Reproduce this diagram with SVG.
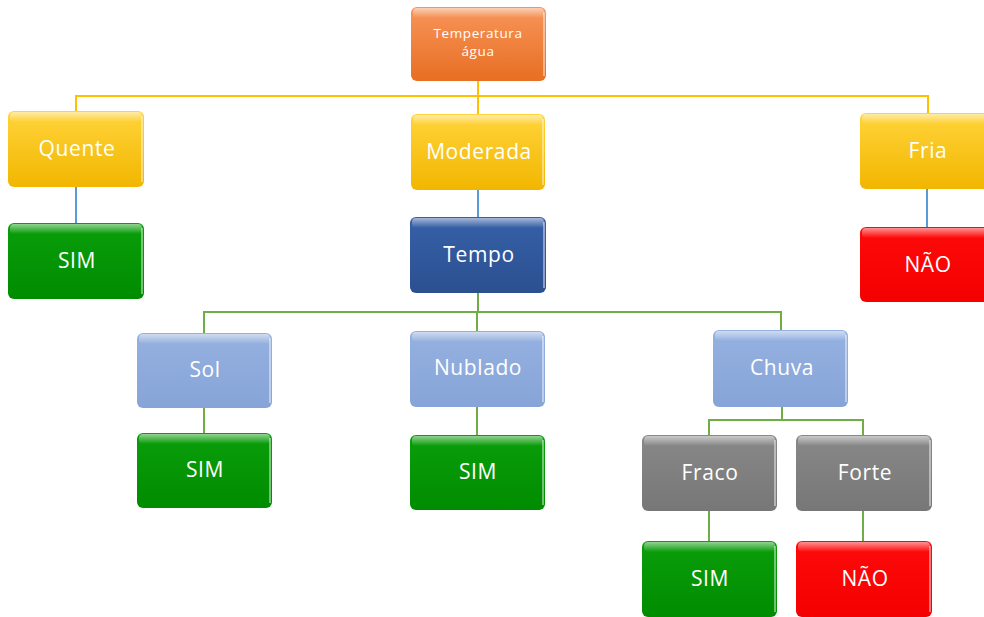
<svg xmlns="http://www.w3.org/2000/svg" width="984" height="617" viewBox="0 0 984 617">
<defs>
<linearGradient id="gOrange" x1="0" y1="0" x2="0" y2="1"><stop offset="0" stop-color="#F7955A"/><stop offset="1" stop-color="#E86E22"/></linearGradient>
<linearGradient id="gYellow" x1="0" y1="0" x2="0" y2="1"><stop offset="0" stop-color="#FFD43A"/><stop offset="1" stop-color="#F2B600"/></linearGradient>
<linearGradient id="gGreen" x1="0" y1="0" x2="0" y2="1"><stop offset="0" stop-color="#0A9E0A"/><stop offset="1" stop-color="#008C00"/></linearGradient>
<linearGradient id="gRed" x1="0" y1="0" x2="0" y2="1"><stop offset="0" stop-color="#FF0A0A"/><stop offset="1" stop-color="#F50000"/></linearGradient>
<linearGradient id="gDark" x1="0" y1="0" x2="0" y2="1"><stop offset="0" stop-color="#3660A8"/><stop offset="1" stop-color="#2B5090"/></linearGradient>
<linearGradient id="gLight" x1="0" y1="0" x2="0" y2="1"><stop offset="0" stop-color="#95B1E0"/><stop offset="1" stop-color="#87A4D8"/></linearGradient>
<linearGradient id="gGray" x1="0" y1="0" x2="0" y2="1"><stop offset="0" stop-color="#888888"/><stop offset="1" stop-color="#777777"/></linearGradient>
<linearGradient id="gShine" x1="0" y1="0" x2="0" y2="1"><stop offset="0" stop-color="#FFFFFF" stop-opacity="0.55"/><stop offset="1" stop-color="#FFFFFF" stop-opacity="0"/></linearGradient>
</defs>
<style>
.box{stroke:none}
.shine{fill:url(#gShine)}
.edge{fill:none;stroke:#FFFFFF;stroke-opacity:0.6;stroke-width:1.5}
.t{font-family:"Open Sans","DejaVu Sans",sans-serif;fill:#FFFFFF;text-anchor:middle;font-size:21px;letter-spacing:0.6px}
.ts{font-family:"Open Sans","DejaVu Sans",sans-serif;fill:#FFFFFF;text-anchor:middle;font-size:13.5px;letter-spacing:0.6px}
.cy{fill:none;stroke:#FFC000;stroke-width:2}
.cb{fill:none;stroke:#5B9BD5;stroke-width:2}
.cg{fill:none;stroke:#70AD47;stroke-width:2}
</style>
<g id="connectors">
<path class="cy" d="M478 81 V96 M76 111 V96 H928 V113 M478 96 V114"/>
<path class="cb" d="M76 187 V223 M478 190 V217 M927 189 V227"/>
<path class="cg" d="M478 293 V312 M204 333 V312 H781 V330 M477 312 V331 M204 408 V433 M477 407 V435"/>
<path class="cg" d="M782 407 V420 M709 435 V420 H863 V435 M709 511 V541 M863 511 V541"/>
</g>
<g id="n-temp">
<rect class="box" x="411" y="7" width="135" height="74" rx="6" fill="url(#gOrange)"/>
<rect class="shine" x="413" y="8" width="131" height="10" rx="4"/>
<path class="edge" d="M544 12 V76"/>
<text class="ts" x="478" y="38">Temperatura</text>
<text class="ts" x="478" y="56">água</text>
</g>
<g id="n-quente">
<rect class="box" x="8" y="111" width="136" height="76" rx="6" fill="url(#gYellow)"/>
<rect class="shine" x="10" y="112" width="132" height="10" rx="4"/>
<path class="edge" d="M142 116 V182"/>
<text class="t" x="77" y="156">Quente</text>
</g>
<g id="n-moderada">
<rect class="box" x="411" y="114" width="134" height="76" rx="6" fill="url(#gYellow)"/>
<rect class="shine" x="413" y="115" width="130" height="10" rx="4"/>
<path class="edge" d="M543 119 V185"/>
<text class="t" x="479" y="159">Moderada</text>
</g>
<g id="n-fria">
<rect class="box" x="860" y="113" width="134" height="76" rx="6" fill="url(#gYellow)"/>
<rect class="shine" x="862" y="114" width="130" height="10" rx="4"/>
<text class="t" x="928" y="158">Fria</text>
</g>
<g id="n-sim1">
<rect class="box" x="8" y="223" width="136" height="76" rx="6" fill="url(#gGreen)"/>
<rect class="shine" x="10" y="224" width="132" height="10" rx="4"/>
<path class="edge" d="M142 228 V294"/>
<text class="t" x="77" y="268">SIM</text>
</g>
<g id="n-tempo">
<rect class="box" x="410" y="217" width="136" height="76" rx="6" fill="url(#gDark)"/>
<rect class="shine" x="412" y="218" width="132" height="10" rx="4"/>
<path class="edge" d="M544 222 V288"/>
<text class="t" x="479" y="262">Tempo</text>
</g>
<g id="n-nao1">
<rect class="box" x="860" y="227" width="134" height="75" rx="6" fill="url(#gRed)"/>
<rect class="shine" x="862" y="228" width="130" height="10" rx="4"/>
<text class="t" x="928" y="272">NÃO</text>
</g>
<g id="n-sol">
<rect class="box" x="137" y="333" width="135" height="75" rx="6" fill="url(#gLight)"/>
<rect class="shine" x="139" y="334" width="131" height="10" rx="4"/>
<path class="edge" d="M270 338 V403"/>
<text class="t" x="205" y="377">Sol</text>
</g>
<g id="n-nublado">
<rect class="box" x="410" y="331" width="135" height="76" rx="6" fill="url(#gLight)"/>
<rect class="shine" x="412" y="332" width="131" height="10" rx="4"/>
<path class="edge" d="M543 336 V402"/>
<text class="t" x="478" y="375">Nublado</text>
</g>
<g id="n-chuva">
<rect class="box" x="713" y="330" width="135" height="77" rx="6" fill="url(#gLight)"/>
<rect class="shine" x="715" y="331" width="131" height="10" rx="4"/>
<path class="edge" d="M846 335 V402"/>
<text class="t" x="782" y="375">Chuva</text>
</g>
<g id="n-sim2">
<rect class="box" x="137" y="433" width="135" height="75" rx="6" fill="url(#gGreen)"/>
<rect class="shine" x="139" y="434" width="131" height="10" rx="4"/>
<path class="edge" d="M270 438 V503"/>
<text class="t" x="205" y="477">SIM</text>
</g>
<g id="n-sim3">
<rect class="box" x="410" y="435" width="135" height="75" rx="6" fill="url(#gGreen)"/>
<rect class="shine" x="412" y="436" width="131" height="10" rx="4"/>
<path class="edge" d="M543 440 V505"/>
<text class="t" x="478" y="479">SIM</text>
</g>
<g id="n-fraco">
<rect class="box" x="642" y="435" width="135" height="76" rx="6" fill="url(#gGray)"/>
<rect class="shine" x="644" y="436" width="131" height="10" rx="4"/>
<path class="edge" d="M775 440 V506"/>
<text class="t" x="710" y="480">Fraco</text>
</g>
<g id="n-forte">
<rect class="box" x="796" y="435" width="136" height="76" rx="6" fill="url(#gGray)"/>
<rect class="shine" x="798" y="436" width="132" height="10" rx="4"/>
<path class="edge" d="M930 440 V506"/>
<text class="t" x="865" y="480">Forte</text>
</g>
<g id="n-sim4">
<rect class="box" x="642" y="541" width="135" height="76" rx="6" fill="url(#gGreen)"/>
<rect class="shine" x="644" y="542" width="131" height="10" rx="4"/>
<path class="edge" d="M775 546 V612"/>
<text class="t" x="710" y="586">SIM</text>
</g>
<g id="n-nao2">
<rect class="box" x="796" y="541" width="136" height="76" rx="6" fill="url(#gRed)"/>
<rect class="shine" x="798" y="542" width="132" height="10" rx="4"/>
<path class="edge" d="M930 546 V612"/>
<text class="t" x="865" y="586">NÃO</text>
</g>
</svg>
